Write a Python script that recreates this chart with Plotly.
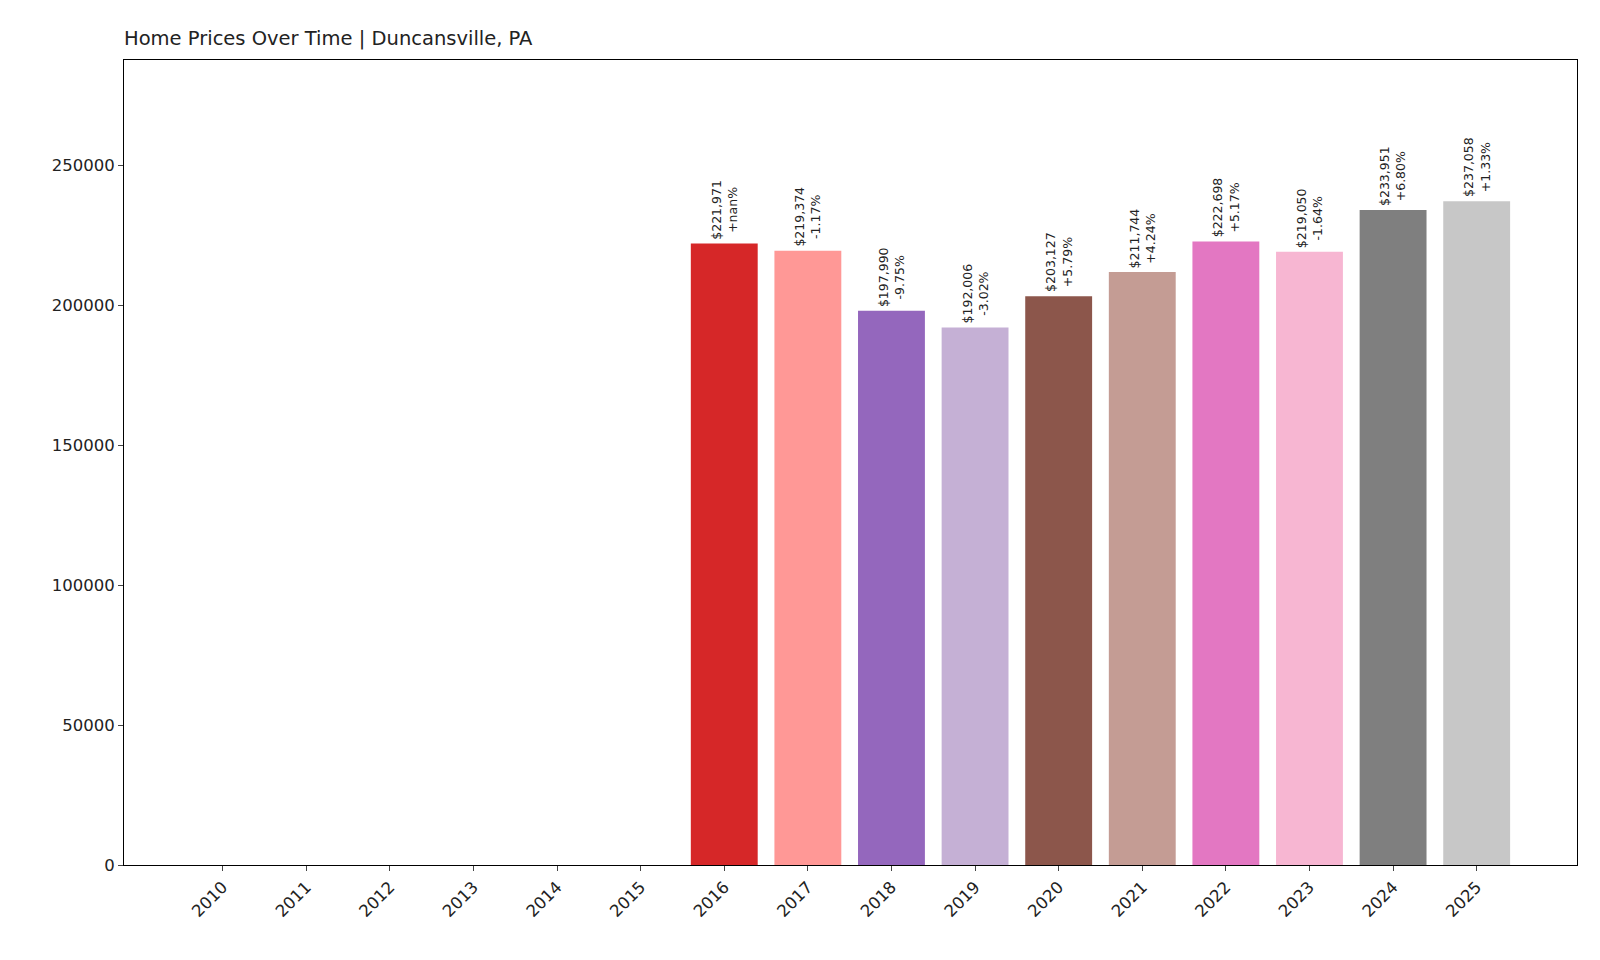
import plotly.graph_objects as go

years = [str(y) for y in range(2010, 2026)]
prices = [0, 0, 0, 0, 0, 0, 221971, 219374, 197990, 192006, 203127, 211744, 222698, 219050, 233951, 237058]
changes = [None]*6 + ["+nan%", "-1.17%", "-9.75%", "-3.02%", "+5.79%", "+4.24%", "+5.17%", "-1.64%", "+6.80%", "+1.33%"]
colors = ["#1f77b4", "#aec7e8", "#ff7f0e", "#ffbb78", "#2ca02c", "#98df8a", "#d62728", "#ff9896",
          "#9467bd", "#c5b0d5", "#8c564b", "#c49c94", "#e377c2", "#f7b6d2", "#7f7f7f", "#c7c7c7"]

fig = go.Figure(go.Bar(x=list(range(len(years))), y=prices, marker_color=colors, width=0.8,
                       marker_line_width=0))
for i, (p, c) in enumerate(zip(prices, changes)):
    if c is None:
        continue
    fig.add_annotation(x=i, y=p, text=f"${p:,}<br>{c}", textangle=-90, showarrow=False,
                       xanchor="center", yanchor="bottom", yshift=2,
                       font=dict(size=12.5, color="#222", family="DejaVu Sans"))

fig.update_layout(
    width=1600, height=960, plot_bgcolor="white", paper_bgcolor="white",
    margin=dict(l=116, r=31, t=52, b=103),
    font=dict(family="DejaVu Sans", size=16.5, color="#222"),
    title=dict(text="Home Prices Over Time | Duncansville, PA", x=116/1600, xanchor="left",
               y=1-30/960, yanchor="middle", font=dict(size=19.5)),
    showlegend=False,
    xaxis=dict(range=[-1.18, 16.2], tickmode="array", tickvals=list(range(len(years))), ticktext=years,
               tickangle=-45, showgrid=False, showline=True, linecolor="black", mirror=True,
               ticks="outside", ticklen=5, zeroline=False),
    yaxis=dict(range=[0, 287500], tickvals=[0, 50000, 100000, 150000, 200000, 250000],
               tickformat="d", showgrid=False, showline=True, linecolor="black", mirror=True,
               ticks="outside", ticklen=5, zeroline=False),
)
fig.write_html("out.html")
